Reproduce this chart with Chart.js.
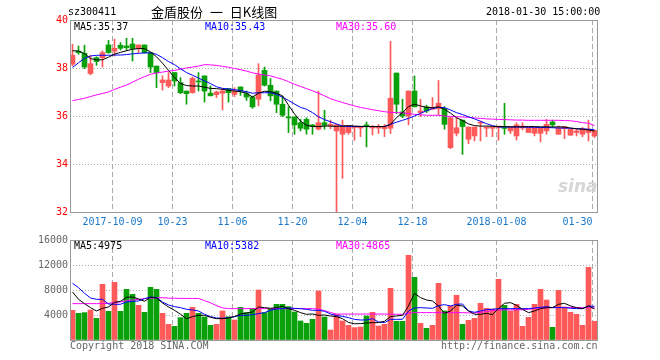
<!DOCTYPE html>
<html lang="zh">
<head>
<meta charset="utf-8">
<title>金盾股份 日K线图</title>
<script src="https://cdn.jsdelivr.net/npm/chart.js@4/dist/chart.umd.min.js"></script>
<style>
    html, body { margin: 0; padding: 0; background: #fff; }
    #page { position: relative; width: 660px; height: 360px; overflow: hidden;
            font-family: "DejaVu Sans Mono", monospace; font-size: 10px; color: #000; }
    .txt { position: absolute; white-space: pre; line-height: 12px; }
    #kline-wrap { position: absolute; left: 0; top: 0; }
    #vol-wrap { position: absolute; left: 0; top: 228px; }
    #titre { font-family: "Noto Sans CJK SC", sans-serif; font-size: 13px; line-height: 16px; word-spacing: 4px; }
    .gris { color: #666; }
    .bleu { color: #0000ff; }
    .rose { color: #ff00ff; }
    #sina { font-family: "DejaVu Sans", sans-serif; font-size: 17px; font-weight: bold; font-style: italic; color: #d6d6d6; }
</style>
</head>
<body>
<div id="page">
    <div id="kline-wrap"><canvas id="kline-chart" width="660" height="232"></canvas></div>
    <div id="vol-wrap"><canvas id="vol-chart" width="660" height="132"></canvas></div>

    <div class="txt" style="left:68px;top:6px;">sz300411</div>
    <div class="txt" id="titre" style="left:151px;top:4px;">金盾股份 一 日K线图</div>
    <div class="txt" style="left:486px;top:6px;">2018-01-30 15:00:00</div>

    <div class="txt" style="left:74px;top:21px;">MA5:35.37</div>
    <div class="txt bleu" style="left:205px;top:21px;">MA10:35.43</div>
    <div class="txt rose" style="left:336px;top:21px;">MA30:35.60</div>

    <div class="txt" style="left:74px;top:240px;">MA5:4975</div>
    <div class="txt bleu" style="left:205px;top:240px;">MA10:5382</div>
    <div class="txt rose" style="left:336px;top:240px;">MA30:4865</div>

    <div class="txt" id="sina" style="left:558px;top:176px;line-height:20px;">sina</div>

    <div class="txt gris" style="left:70px;top:340px;">Copyright 2018 SINA.COM</div>
    <div class="txt gris" style="left:441px;top:340px;">http://finance.sina.com.cn</div>
</div>

<script>
// Jours de cotation (axe des catégories)
const dates = [
    '2017-09-21', '2017-09-22', '2017-09-25', '2017-09-26', '2017-09-27', '2017-09-28', '2017-09-29',
    '2017-10-09', '2017-10-10', '2017-10-11', '2017-10-12', '2017-10-13', '2017-10-16', '2017-10-17',
    '2017-10-18', '2017-10-19', '2017-10-20', '2017-10-23', '2017-10-24', '2017-10-25', '2017-10-26',
    '2017-10-27', '2017-10-30', '2017-10-31', '2017-11-01', '2017-11-02', '2017-11-03', '2017-11-06',
    '2017-11-07', '2017-11-08', '2017-11-09', '2017-11-10', '2017-11-13', '2017-11-14', '2017-11-15',
    '2017-11-16', '2017-11-17', '2017-11-20', '2017-11-21', '2017-11-22', '2017-11-23', '2017-11-24',
    '2017-11-27', '2017-11-28', '2017-11-29', '2017-11-30', '2017-12-01', '2017-12-04', '2017-12-05',
    '2017-12-06', '2017-12-07', '2017-12-08', '2017-12-11', '2017-12-12', '2017-12-13', '2017-12-14',
    '2017-12-15', '2017-12-18', '2017-12-19', '2017-12-20', '2017-12-21', '2017-12-22', '2017-12-25',
    '2017-12-26', '2017-12-27', '2017-12-28', '2017-12-29', '2018-01-02', '2018-01-03', '2018-01-04',
    '2018-01-05', '2018-01-08', '2018-01-09', '2018-01-10', '2018-01-11', '2018-01-12', '2018-01-15',
    '2018-01-16', '2018-01-17', '2018-01-18', '2018-01-19', '2018-01-22', '2018-01-23', '2018-01-24',
    '2018-01-25', '2018-01-26', '2018-01-29', '2018-01-30'
];

// Libellés affichés sur l'axe des dates
const tickDates = ['2017-10-09', '2017-10-23', '2017-11-06', '2017-11-20', '2017-12-04', '2017-12-18', '2018-01-08', '2018-01-30'];
const tickLabels = ['2017-10-09', '10-23', '11-06', '11-20', '12-04', '12-18', '2018-01-08', '01-30'];

// Cours : ouverture, clôture, plus haut, plus bas
const openPrices = [
    38.16, 38.70, 38.61, 37.77, 38.43, 38.43, 38.96, 38.70, 38.95, 38.92, 39.00, 38.82, 38.96, 38.64, 38.08,
    37.39, 37.25, 37.81, 37.39, 37.04, 36.97, 37.46, 37.67, 36.95, 36.89, 36.95, 37.14, 36.90, 37.21, 36.93,
    36.79, 36.70, 37.90, 37.28, 37.04, 36.49, 35.94, 35.96, 35.72, 35.86, 35.63, 35.45, 35.72, 35.58, 35.38,
    35.24, 35.31, 35.52, 35.50, 35.63, 35.50, 35.50, 35.47, 35.49, 37.79, 36.17, 36.00, 37.04, 36.14, 36.38,
    36.28, 36.30, 36.31, 34.68, 35.28, 35.83, 35.03, 35.17, 35.70, 35.49, 35.49, 35.52, 35.50, 35.38, 35.17,
    35.50, 35.31, 35.28, 35.28, 35.38, 35.75, 35.24, 35.47, 35.20, 35.31, 35.24, 35.31, 35.17
];
const closePrices = [
    38.53, 38.64, 38.04, 38.18, 38.27, 38.64, 38.64, 38.82, 38.82, 38.85, 38.81, 38.96, 38.64, 38.04, 37.81,
    37.50, 37.50, 37.46, 36.97, 36.93, 37.57, 37.42, 37.04, 36.84, 37.00, 37.04, 36.97, 37.04, 37.04, 36.79,
    36.38, 37.71, 37.28, 36.84, 36.49, 36.03, 35.92, 35.63, 35.49, 35.45, 35.58, 35.72, 35.61, 35.65, 35.63,
    35.59, 35.59, 35.56, 35.56, 35.56, 35.56, 35.56, 35.56, 36.74, 36.49, 36.00, 37.04, 36.38, 36.21, 36.21,
    36.35, 36.53, 35.65, 35.93, 35.51, 35.56, 35.54, 35.54, 35.72, 35.54, 35.54, 35.58, 35.48, 35.54, 35.63,
    35.58, 35.53, 35.52, 35.50, 35.65, 35.63, 35.50, 35.56, 35.45, 35.38, 35.47, 35.45, 35.40
];
const highPrices = [
    38.99, 38.92, 38.95, 38.53, 38.47, 38.71, 39.15, 39.20, 39.06, 39.24, 39.24, 38.96, 38.96, 38.64, 38.08,
    37.67, 37.81, 37.81, 37.60, 37.04, 37.63, 37.81, 37.67, 37.25, 37.04, 37.14, 37.14, 37.18, 37.21, 37.04,
    36.83, 38.18, 38.04, 37.56, 37.04, 36.83, 36.39, 35.96, 35.86, 35.93, 35.65, 37.04, 36.24, 35.83, 35.65,
    35.83, 35.59, 35.56, 35.56, 35.75, 35.61, 35.65, 35.65, 39.11, 37.79, 36.70, 37.04, 37.67, 36.70, 36.45,
    36.77, 37.48, 36.39, 35.93, 35.93, 35.83, 35.54, 35.54, 35.79, 35.54, 35.54, 35.58, 36.53, 35.54, 35.72,
    35.72, 35.53, 35.52, 35.50, 35.86, 35.83, 35.58, 35.56, 35.45, 35.45, 35.52, 35.83, 35.40
];
const lowPrices = [
    38.09, 38.57, 37.97, 37.71, 38.11, 38.04, 38.61, 38.50, 38.75, 38.74, 38.29, 38.64, 38.61, 37.81, 37.18,
    37.08, 37.18, 37.25, 36.93, 36.49, 36.95, 37.04, 36.58, 36.84, 36.77, 36.25, 36.58, 36.81, 36.86, 36.65,
    36.32, 36.42, 37.25, 36.63, 36.14, 35.97, 35.31, 35.24, 35.38, 35.24, 35.24, 35.42, 35.45, 35.47, 32.00,
    33.40, 35.24, 34.99, 35.14, 34.71, 35.21, 35.27, 35.14, 35.27, 36.10, 35.93, 35.63, 36.38, 35.97, 36.14,
    36.28, 36.05, 35.45, 34.64, 35.17, 34.40, 34.85, 34.96, 34.96, 35.14, 35.14, 34.99, 35.24, 35.27, 35.00,
    35.42, 35.31, 35.17, 34.92, 35.24, 35.56, 35.24, 35.06, 35.20, 35.17, 35.14, 34.96, 35.10
];

// Moyennes mobiles du cours
const priceMa5 = [
    38.72, 38.71, 38.60, 38.39, 38.34, 38.34, 38.45, 38.58, 38.65, 38.72, 38.78, 38.81, 38.81, 38.67, 38.47,
    38.20, 37.90, 37.60, 37.35, 37.27, 37.25, 37.25, 37.20, 37.15, 37.14, 37.11, 37.07, 37.04, 37.01, 36.95,
    36.79, 36.95, 37.03, 37.01, 36.95, 36.84, 36.45, 36.09, 35.79, 35.61, 35.56, 35.56, 35.58, 35.58, 35.57,
    35.58, 35.60, 35.58, 35.57, 35.56, 35.56, 35.56, 35.56, 35.65, 35.93, 36.14, 36.39, 36.49, 36.42, 36.36,
    36.35, 36.38, 36.28, 36.12, 35.93, 35.81, 35.67, 35.60, 35.58, 35.58, 35.57, 35.56, 35.56, 35.55, 35.55,
    35.55, 35.56, 35.56, 35.55, 35.55, 35.54, 35.55, 35.54, 35.50, 35.47, 35.45, 35.42, 35.37
];
const priceMa10 = [
    38.02, 38.22, 38.40, 38.50, 38.53, 38.53, 38.53, 38.54, 38.54, 38.56, 38.59, 38.61, 38.63, 38.63, 38.57,
    38.43, 38.27, 38.14, 37.97, 37.81, 37.70, 37.58, 37.46, 37.35, 37.22, 37.15, 37.13, 37.10, 37.06, 37.01,
    36.95, 36.97, 36.97, 36.97, 36.90, 36.78, 36.65, 36.50, 36.36, 36.28, 36.14, 35.97, 35.85, 35.76, 35.67,
    35.58, 35.56, 35.56, 35.56, 35.56, 35.56, 35.56, 35.56, 35.65, 35.74, 35.82, 35.90, 36.00, 36.11, 36.22,
    36.31, 36.36, 36.35, 36.25, 36.14, 36.06, 35.97, 35.88, 35.78, 35.68, 35.60, 35.54, 35.54, 35.54, 35.54,
    35.54, 35.53, 35.53, 35.52, 35.52, 35.51, 35.50, 35.50, 35.49, 35.47, 35.46, 35.45, 35.43
];
const priceMa30 = [
    36.64, 36.69, 36.74, 36.81, 36.88, 36.94, 37.00, 37.11, 37.20, 37.29, 37.41, 37.53, 37.64, 37.74, 37.79,
    37.83, 37.87, 37.90, 37.95, 38.00, 38.04, 38.08, 38.14, 38.13, 38.11, 38.07, 38.03, 37.98, 37.93, 37.87,
    37.80, 37.75, 37.71, 37.67, 37.60, 37.53, 37.43, 37.32, 37.23, 37.14, 37.05, 36.95, 36.84, 36.72, 36.64,
    36.56, 36.49, 36.42, 36.36, 36.31, 36.26, 36.22, 36.18, 36.15, 36.14, 36.13, 36.10, 36.07, 36.05, 36.03,
    36.03, 36.03, 36.00, 35.98, 35.97, 35.96, 35.94, 35.92, 35.90, 35.88, 35.87, 35.86, 35.85, 35.84, 35.83,
    35.83, 35.82, 35.82, 35.82, 35.82, 35.82, 35.82, 35.81, 35.80, 35.77, 35.72, 35.70, 35.60
];

// Volumes (lots) et leurs moyennes mobiles
const volumes = [
    4752, 4272, 4379, 4805, 3472, 8912, 4592, 9232, 4592, 8112, 7312, 5552, 4432, 8432, 8112,
    4272, 2512, 2192, 3579, 4272, 5232, 4272, 3680, 2352, 2512, 4645, 3712, 3200, 5232, 4379,
    5072, 8000, 4379, 5072, 5712, 5712, 5339, 4485, 3045, 2672, 3312, 7845, 3680, 1600, 4112,
    3045, 2352, 1979, 2080, 3840, 4432, 2240, 2512, 8272, 2992, 2992, 13552, 10032, 2672, 1872,
    2352, 9072, 4645, 5440, 7152, 2512, 3152, 3472, 5872, 5072, 4965, 9712, 5552, 4645, 5712,
    2192, 3632, 5712, 8112, 6400, 2032, 7952, 5280, 4432, 4112, 2352, 11632, 2992
];
const volMa5 = [
    7685, 6512, 5819, 5179, 4645, 5072, 5285, 6032, 6192, 6832, 6885, 6565, 6192, 6832, 6725,
    5925, 5285, 4752, 4112, 3419, 3739, 3952, 3952, 3632, 3419, 3419, 3525, 3739, 4165, 4325,
    4485, 5285, 5179, 5072, 5179, 5392, 5019, 4752, 4379, 4112, 4165, 3952, 4005, 3845, 3739,
    3419, 2805, 2600, 2619, 2725, 2779, 2779, 2992, 3739, 3845, 3952, 5445, 7472, 6779, 6405,
    6245, 5445, 4272, 4645, 5552, 5445, 4645, 4112, 4112, 4272, 4059, 5019, 5872, 5979, 5552,
    4912, 4379, 4645, 5019, 5179, 5179, 5712, 5872, 5445, 5179, 5019, 5445, 4975
];
const volMa10 = [
    9072, 8379, 7472, 6725, 6512, 6512, 5765, 5712, 5712, 6085, 6192, 6245, 6619, 6885, 6779,
    6085, 5605, 5339, 5179, 4912, 4805, 4645, 4112, 3739, 3525, 3472, 3579, 3739, 3952, 3952,
    4059, 4219, 4379, 4752, 4965, 5019, 5125, 5072, 5019, 4912, 4752, 4752, 4592, 4165, 3899,
    3792, 3579, 3300, 3205, 3205, 3419, 2885, 2779, 3312, 3312, 3312, 4645, 5125, 5179, 5125,
    5072, 5499, 5659, 5445, 5712, 5765, 4645, 4432, 4645, 4859, 4912, 5019, 5019, 5019, 5019,
    5019, 5019, 5125, 5232, 5339, 5179, 5179, 5179, 5072, 5019, 5019, 5445, 5382
];
const volMa30 = [
    5819, 5819, 5819, 5819, 5819, 5819, 5870, 6000, 6085, 6300, 6400, 6500, 6619, 6700, 6750,
    6779, 6700, 6680, 6660, 6650, 6650, 6640, 6300, 5950, 5500, 5150, 5019, 5019, 5019, 5019,
    5019, 5019, 5019, 5019, 5019, 5019, 5019, 5019, 5019, 5019, 5019, 4950, 4700, 4400, 4150,
    4150, 4150, 4150, 4150, 4150, 4150, 4150, 4150, 4120, 4120, 4120, 4300, 4379, 4379, 4379,
    4379, 4379, 4379, 4379, 4379, 4379, 4340, 4330, 4430, 4550, 4700, 4805, 4830, 4830, 4830,
    4840, 4900, 5050, 5125, 5150, 5200, 5200, 5200, 5200, 5190, 5180, 5180, 5150
];

// Couleurs façon Sina
const COLORS = {
    UP: '#ff5a5a',
    DOWN: '#0aa00a',
    MA5: '#000000',
    MA10: '#0000ff',
    MA30: '#ff00ff',
    GRID: '#aaaaaa',
    FRAME: '#999999',
    PRICE_TICK: '#ff0000',
    VOL_TICK: '#666666',
    DATE_TICK: '#1a78c8'
};
const MONO = { family: "'DejaVu Sans Mono', monospace", size: 10 };

// Bornes de l'axe X : 6 px par séance sur 527 px
const X_MIN = -0.4167;
const X_MAX = 87.4167;

// Positions des traits verticaux (un peu à gauche du centre de la bougie)
const tickIndex = tickDates.map(d => dates.indexOf(d));

const candleColors = dates.map((d, i) => closePrices[i] >= openPrices[i] ? COLORS.UP : COLORS.DOWN);

/**
 * Transforme une liste de valeurs en points {x, y}
 */
function toPoints(values) {
    return values.map((v, i) => ({ x: i, y: v }));
}

/**
 * Cadre gris autour de la zone du graphique
 */
const framePlugin = {
    id: 'frame',
    afterDatasetsDraw(chart) {
        const { ctx, chartArea: a } = chart;
        ctx.save();
        ctx.strokeStyle = COLORS.FRAME;
        ctx.lineWidth = 1;
        ctx.strokeRect(Math.round(a.left) + 0.5, Math.round(a.top) + 0.5,
            Math.round(a.right - a.left), Math.round(a.bottom - a.top));
        ctx.restore();
    }
};

/**
 * Axe X commun aux deux graphiques
 */
function makeXAxis(showLabels) {
    return {
        type: 'linear',
        min: X_MIN,
        max: X_MAX,
        offset: false,
        afterBuildTicks: scale => {
            scale.ticks = [{ value: X_MIN }].concat(tickIndex.map(i => ({ value: i - 1 / 3 })));
        },
        afterFit: scale => {
            scale.height = showLabels ? 20 : 0;
            scale.paddingLeft = 0;
            scale.paddingRight = 0;
        },
        grid: {
            color: ctx => ctx.index === 0 ? 'rgba(0,0,0,0)' : COLORS.GRID,
            lineWidth: 1,
            offset: false,
            drawTicks: false
        },
        border: { display: false, dash: [5, 3] },
        ticks: {
            display: showLabels,
            autoSkip: false,
            maxRotation: 0,
            minRotation: 0,
            align: 'inner',
            padding: 4,
            color: COLORS.DATE_TICK,
            font: MONO,
            callback: (value, index) => index === 0 ? '' : tickLabels[index - 1]
        }
    };
}

function lineDataset(label, values, color) {
    return {
        type: 'line',
        label: label,
        data: toPoints(values),
        borderColor: color,
        borderWidth: 1,
        pointRadius: 0,
        tension: 0,
        order: 0
    };
}

// Graphique K-line
const klineChart = new Chart(document.getElementById('kline-chart').getContext('2d'), {
    type: 'bar',
    data: {
        datasets: [
            lineDataset('MA5', priceMa5, COLORS.MA5),
            lineDataset('MA10', priceMa10, COLORS.MA10),
            lineDataset('MA30', priceMa30, COLORS.MA30),
            {
                label: 'corps',
                data: dates.map((d, i) => ({ x: i, y: [openPrices[i], closePrices[i]] })),
                backgroundColor: candleColors,
                barThickness: 5,
                minBarLength: 1,
                grouped: false,
                order: 1
            },
            {
                label: 'mèche',
                data: dates.map((d, i) => ({ x: i, y: [lowPrices[i], highPrices[i]] })),
                backgroundColor: candleColors,
                barThickness: 1,
                minBarLength: 1,
                grouped: false,
                order: 2
            }
        ]
    },
    options: {
        responsive: false,
        animation: false,
        layout: { padding: { top: 20, right: 63, left: 0, bottom: 0 } },
        plugins: { legend: { display: false }, tooltip: { enabled: false } },
        scales: {
            x: makeXAxis(true),
            y: {
                min: 32,
                max: 40,
                afterFit: scale => { scale.width = 70; },
                grid: { color: COLORS.GRID, lineWidth: 1, drawTicks: false },
                border: { display: false, dash: [1, 2] },
                ticks: { stepSize: 2, padding: 2, color: COLORS.PRICE_TICK, font: MONO }
            }
        }
    },
    plugins: [framePlugin]
});

// Graphique des volumes
const volChart = new Chart(document.getElementById('vol-chart').getContext('2d'), {
    type: 'bar',
    data: {
        datasets: [
            lineDataset('MA5', volMa5, COLORS.MA5),
            lineDataset('MA10', volMa10, COLORS.MA10),
            lineDataset('MA30', volMa30, COLORS.MA30),
            {
                label: 'volume',
                data: toPoints(volumes),
                backgroundColor: candleColors,
                barThickness: 5,
                grouped: false,
                order: 1
            }
        ]
    },
    options: {
        responsive: false,
        animation: false,
        layout: { padding: { top: 12, right: 63, left: 0, bottom: 20 } },
        plugins: { legend: { display: false }, tooltip: { enabled: false } },
        scales: {
            x: makeXAxis(false),
            y: {
                min: 0,
                max: 16000,
                afterFit: scale => { scale.width = 70; },
                grid: { color: COLORS.GRID, lineWidth: 1, drawTicks: false },
                border: { display: false, dash: [1, 2] },
                ticks: {
                    stepSize: 4000,
                    padding: 2,
                    color: COLORS.VOL_TICK,
                    font: MONO,
                    callback: value => value === 0 ? '' : String(value)
                }
            }
        }
    },
    plugins: [framePlugin]
});
</script>
</body>
</html>
